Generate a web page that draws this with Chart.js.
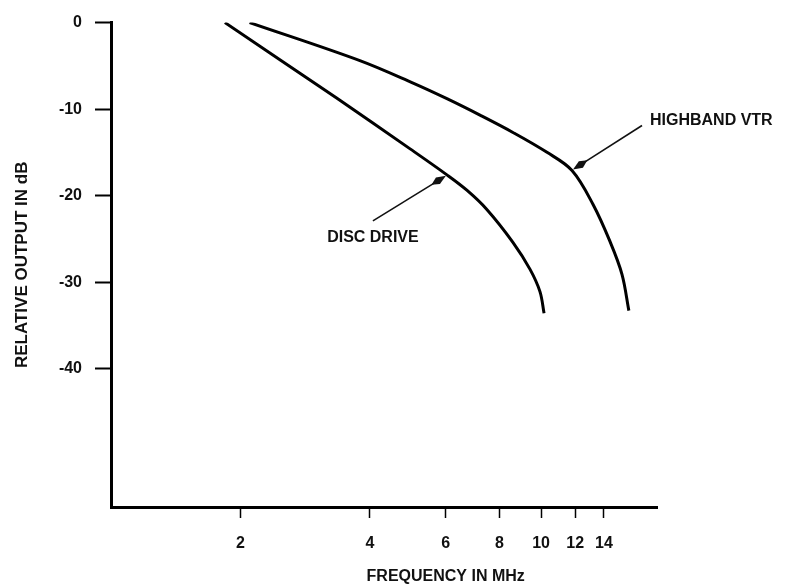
<!DOCTYPE html>
<html>
<head>
<meta charset="utf-8">
<script src="https://cdn.jsdelivr.net/npm/chart.js@4/dist/chart.umd.min.js"></script>
<style>
  html, body { margin: 0; padding: 0; background: #fff; }
  #wrap { width: 786px; height: 585px; }
</style>
</head>
<body>
<div id="wrap"><canvas id="c" width="786" height="585"></canvas></div>
<script>
// ---- data ----
const xTickValues = [2, 4, 6, 8, 10, 12, 14];           // MHz (log axis)
const yTickValues = [0, -10, -20, -30, -40];            // dB

const discFreq = [1.84, 3.34, 4.96, 6.04, 6.73, 7.48, 8.60, 9.42, 9.94, 10.16];
const discDb   = [0, -8.7, -14.6, -17.6, -19.4, -21.6, -25.4, -28.5, -31.1, -33.6];

const vtrFreq  = [2.10, 3.79, 5.04, 6.04, 7.21, 8.60, 10.32, 11.80, 13.20, 14.46, 15.42, 16.0];
const vtrDb    = [0, -4.4, -7.0, -8.8, -10.7, -12.7, -15.0, -17.1, -21.0, -25.3, -29.1, -33.3];

const seriesNames = ['DISC DRIVE', 'HIGHBAND VTR'];
const axisTitles = { x: 'FREQUENCY IN MHz', y: 'RELATIVE OUTPUT IN dB' };

// index of the point each label's arrow points at
const discArrowIndex = 3;
const vtrArrowIndex = 7;

const toPoints = (xs, ys) => xs.map((x, i) => ({ x: x, y: ys[i] }));

const FONT = "'Liberation Sans', Arial, sans-serif";
const INK = '#111';

function drawArrow(ctx, x0, y0, x1, y1) {
  const ang = Math.atan2(y1 - y0, x1 - x0);
  const headLen = 17, headW = 3.8;
  const c = Math.cos(ang), s = Math.sin(ang);
  ctx.save();
  ctx.strokeStyle = INK;
  ctx.fillStyle = INK;
  ctx.lineWidth = 1.6;
  ctx.beginPath();
  ctx.moveTo(x0, y0);
  ctx.lineTo(x1 - c * headLen * 0.7, y1 - s * headLen * 0.7);
  ctx.stroke();
  // dart-shaped head
  const bx = x1 - c * headLen, by = y1 - s * headLen;
  const mx = x1 - c * headLen * 0.55, my = y1 - s * headLen * 0.55;
  const px = -s * headW, py = c * headW;
  ctx.beginPath();
  ctx.moveTo(x1, y1);
  ctx.lineTo(mx + px, my + py);
  ctx.lineTo(bx, by);
  ctx.lineTo(mx - px, my - py);
  ctx.closePath();
  ctx.fill();
  ctx.restore();
}

const annotationPlugin = {
  id: 'annotations',
  afterDraw(chart) {
    const ctx = chart.ctx;
    const xs = chart.scales.x;
    ctx.save();
    ctx.font = 'bold 16px ' + FONT;
    ctx.fillStyle = INK;

    // DISC DRIVE label + arrow
    const dp = chart.getDatasetMeta(0).data[discArrowIndex];
    const dTail = { x: dp.x - 74, y: dp.y + 46 };
    drawArrow(ctx, dTail.x, dTail.y, dp.x - 1, dp.y + 1);
    ctx.textAlign = 'center';
    ctx.textBaseline = 'middle';
    ctx.fillText(seriesNames[0], dTail.x, dTail.y + 17);

    // HIGHBAND VTR label + arrow
    const vp = chart.getDatasetMeta(1).data[vtrArrowIndex];
    const vTail = { x: vp.x + 70, y: vp.y - 45 };
    drawArrow(ctx, vTail.x, vTail.y, vp.x + 1, vp.y - 1);
    ctx.textAlign = 'left';
    ctx.fillText(seriesNames[1], vTail.x + 8, vTail.y - 5);

    // x axis title
    ctx.textAlign = 'center';
    ctx.fillText(axisTitles.x, xs.getPixelForValue(6), 577);
    ctx.restore();
  }
};

const chart = new Chart(document.getElementById('c'), {
  type: 'line',
  data: {
    datasets: [
      {
        label: seriesNames[0],
        data: toPoints(discFreq, discDb),
        borderColor: '#000',
        borderWidth: 3,
        pointRadius: 0,
        fill: false,
        tension: 0.35,
        capBezierPoints: true
      },
      {
        label: seriesNames[1],
        data: toPoints(vtrFreq, vtrDb),
        borderColor: '#000',
        borderWidth: 3,
        pointRadius: 0,
        fill: false,
        tension: 0.35,
        capBezierPoints: true
      }
    ]
  },
  options: {
    responsive: false,
    maintainAspectRatio: false,
    devicePixelRatio: 1,
    animation: false,
    events: [],
    layout: { padding: { left: 0, top: 19, right: 129, bottom: 0 } },
    plugins: {
      legend: { display: false },
      tooltip: { enabled: false },
      title: { display: false }
    },
    scales: {
      x: {
        type: 'logarithmic',
        min: 1,
        max: 18.6,
        afterBuildTicks: (scale) => { scale.ticks = xTickValues.map(v => ({ value: v })); },
        afterFit: (scale) => { scale.height = 78; },
        border: { display: true, color: '#000', width: 3 },
        grid: {
          drawOnChartArea: false,
          drawTicks: true,
          tickLength: 11,
          tickWidth: 1.5,
          tickColor: '#000'
        },
        ticks: {
          autoSkip: false,
          maxRotation: 0,
          padding: 16,
          color: INK,
          font: { family: FONT, size: 16, weight: 'bold' },
          callback: (v) => String(v)
        },
        title: { display: false }
      },
      y: {
        type: 'linear',
        min: -56,
        max: 0,
        afterBuildTicks: (scale) => { scale.ticks = yTickValues.map(v => ({ value: v })); },
        afterFit: (scale) => { scale.width = 111; },
        border: { display: true, color: '#000', width: 3 },
        grid: {
          drawOnChartArea: false,
          drawTicks: true,
          tickLength: 16,
          tickWidth: 2,
          tickColor: '#000'
        },
        ticks: {
          padding: 13,
          color: INK,
          font: { family: FONT, size: 16, weight: 'bold' },
          callback: (v) => String(v)
        },
        title: {
          display: true,
          text: axisTitles.y,
          color: INK,
          font: { family: FONT, size: 17, weight: 'bold' },
          padding: { top: 12, bottom: 0 }
        }
      }
    }
  },
  plugins: [annotationPlugin]
});
</script>
</body>
</html>
